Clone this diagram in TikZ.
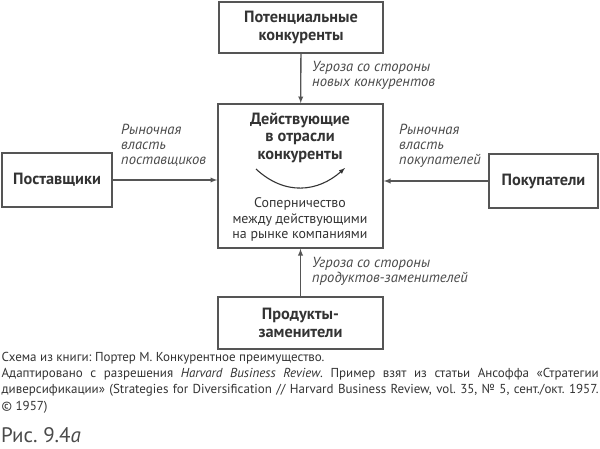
\documentclass[tikz,border=0pt]{standalone}
\usepackage{fontspec}
\setmainfont{PT Sans}
\definecolor{boxgray}{HTML}{555555}
\definecolor{textgray}{HTML}{333333}
\definecolor{notegray}{HTML}{4a4a4a}
\tikzset{
  box/.style={draw=boxgray, line width=1.6pt, text=textgray, align=center, inner sep=0pt,
    font=\fontsize{16.3}{18}\selectfont\bfseries},
  force/.style={-latex, draw=boxgray, line width=1.3pt},
  note/.style={text=notegray, anchor=north west, align=left, inner sep=0pt,
    font=\fontsize{14.6}{15}\selectfont\itshape},
  plain/.style={text=textgray, align=center, inner sep=0pt,
    font=\fontsize{13.9}{15.5}\selectfont},
}
\begin{document}
\frenchspacing
\begin{tikzpicture}[x=1pt, y=-1pt]
    \useasboundingbox (0,0) rectangle (600,448);
    % Boxes
    \node[box, minimum width=164pt, minimum height=51pt] (entrants) at (301,27.5) {Потенциальные\\конкуренты};
    \node[box, minimum width=165pt, minimum height=144pt] (rivals) at (300.5,176) {};
    \node[box, minimum width=110pt, minimum height=54pt] (suppliers) at (57,180) {Поставщики};
    \node[box, minimum width=109pt, minimum height=54pt] (buyers) at (543.5,181) {Покупатели};
    \node[box, minimum width=165pt, minimum height=52pt] (substitutes) at (300.5,323) {Продукты-\\заменители};
    % Inside the industry box
    \node[plain, font=\fontsize{16.3}{17.5}\selectfont\bfseries] (rivalstitle) at (300,137.5) {Действующие\\в отрасли\\конкуренты};
    \draw[-latex, draw=textgray, line width=1.1pt] (256,169) .. controls (285,196) and (318,192) .. (345,168);
    \node[plain] (rivalry) at (300,219.5) {Соперничество\\между действующими\\на рынке компаниями};
    % Forces
    \draw[force] (entrants) -- (rivals);
    \draw[force] (substitutes) -- (rivals);
    \draw[force] (suppliers.east) -- (suppliers.east -| rivals.west);
    \draw[force] (buyers.west) -- (buyers.west -| rivals.east);
    % Labels
    \node[note] (entrantsnote) at (312,61) {Угроза со стороны\\новых конкурентов};
    \node[note] (suppliersnote) at (121,124) {Рыночная\\власть\\поставщиков};
    \node[note] (buyersnote) at (399,124) {Рыночная\\власть\\покупателей};
    \node[note] (substitutesnote) at (312,257) {Угроза со стороны\\продуктов-заменителей};
    % Source
    \node[text=textgray, anchor=north west, inner sep=0pt, text width=597pt, align=justify,
      font=\fontsize{13}{16.2}\selectfont] (source) at (1.5,352)
      {Схема из книги: Портер М. Конкурентное преимущество.\\
       Адаптировано с~разрешения \textit{Harvard Business Review}. Пример взят из статьи Ансоффа «Стратегии\linebreak
       диверсификации» (Strategies for Diversification // Harvard Business Review, vol.~35, №~5, сент./окт.~1957.\linebreak
       © 1957)};
    \node[text=notegray, anchor=west, inner sep=0pt, font=\fontsize{21}{24}\selectfont] (figlabel) at (1,435) {Рис. 9.4\textit{а}};
\end{tikzpicture}
\end{document}
